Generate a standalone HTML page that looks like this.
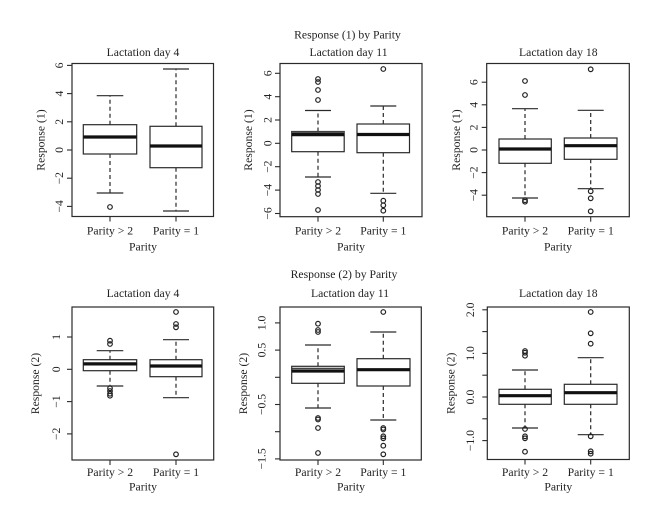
<!DOCTYPE html>
<html><head><meta charset="utf-8"><style>
html,body{margin:0;padding:0;background:#fff;}
svg{display:block;}
text{font-family:"Liberation Serif",serif;font-size:11.7px;fill:#222;}
.f{fill:none;stroke:#2a2a2a;stroke-width:1.2;}
.b{fill:#fff;stroke:#2a2a2a;stroke-width:1.2;}
.m{stroke:#111;stroke-width:3.2;}
.w{stroke:#2a2a2a;stroke-width:1.2;stroke-dasharray:4 3;}
.c{stroke:#2a2a2a;stroke-width:1.2;}
.o{fill:none;stroke:#222;stroke-width:1.2;}
.t{stroke:#2a2a2a;stroke-width:1.1;}
</style></head><body>
<svg width="660" height="525" viewBox="0 0 660 525" xmlns="http://www.w3.org/2000/svg">
<rect width="660" height="525" fill="#fff"/>

<!-- Titles -->
<text x="347.5" y="38.5" text-anchor="middle">Response (1) by Parity</text>
<text x="143" y="56" text-anchor="middle">Lactation day 4</text>
<text x="348.5" y="56" text-anchor="middle">Lactation day 11</text>
<text x="558.3" y="56" text-anchor="middle">Lactation day 18</text>
<text x="344" y="278" text-anchor="middle">Response (2) by Parity</text>
<text x="143" y="297" text-anchor="middle">Lactation day 4</text>
<text x="350" y="297" text-anchor="middle">Lactation day 11</text>
<text x="558.3" y="297" text-anchor="middle">Lactation day 18</text>

<!-- ===== Panel 1 ===== -->
<g>
<!-- whiskers -->
<line class="w" x1="110" y1="124.7" x2="110" y2="95.7"/><line class="w" x1="110" y1="154" x2="110" y2="193"/>
<line class="c" x1="96.7" y1="95.7" x2="123.3" y2="95.7"/><line class="c" x1="96.7" y1="193" x2="123.3" y2="193"/>
<rect class="b" x="83.3" y="124.7" width="53.4" height="29.3"/>
<line class="m" x1="83.3" y1="137" x2="136.7" y2="137"/>
<circle class="o" cx="110" cy="207" r="2.3"/>

<line class="w" x1="176" y1="126.3" x2="176" y2="69"/><line class="w" x1="176" y1="167.7" x2="176" y2="211"/>
<line class="c" x1="163" y1="69" x2="189" y2="69"/><line class="c" x1="163" y1="211" x2="189" y2="211"/>
<rect class="b" x="150" y="126.3" width="52" height="41.4"/>
<line class="m" x1="150" y1="146" x2="202" y2="146"/>

<rect class="f" x="72" y="63.5" width="141.5" height="153"/>
<!-- y ticks -->
<line class="t" x1="67" y1="65.4" x2="72" y2="65.4"/><line class="t" x1="67" y1="93.6" x2="72" y2="93.6"/><line class="t" x1="67" y1="121.8" x2="72" y2="121.8"/><line class="t" x1="67" y1="150" x2="72" y2="150"/><line class="t" x1="67" y1="178.2" x2="72" y2="178.2"/><line class="t" x1="67" y1="206.4" x2="72" y2="206.4"/>
<text x="59" y="65.4" transform="rotate(-90 59 65.4)" text-anchor="middle" dy="0.35em">6</text>
<text x="59" y="93.6" transform="rotate(-90 59 93.6)" text-anchor="middle" dy="0.35em">4</text>
<text x="59" y="121.8" transform="rotate(-90 59 121.8)" text-anchor="middle" dy="0.35em">2</text>
<text x="59" y="150" transform="rotate(-90 59 150)" text-anchor="middle" dy="0.35em">0</text>
<text x="59" y="178.2" transform="rotate(-90 59 178.2)" text-anchor="middle" dy="0.35em">−2</text>
<text x="59" y="206.4" transform="rotate(-90 59 206.4)" text-anchor="middle" dy="0.35em">−4</text>
<text x="41" y="140" transform="rotate(-90 41 140)" text-anchor="middle" dy="0.32em">Response (1)</text>
<!-- x ticks -->
<line class="t" x1="110" y1="216.5" x2="110" y2="221.5"/><line class="t" x1="176" y1="216.5" x2="176" y2="221.5"/>
<text x="110" y="234.5" text-anchor="middle">Parity &gt; 2</text>
<text x="176" y="234.5" text-anchor="middle">Parity = 1</text>
<text x="143" y="250.5" text-anchor="middle">Parity</text>
</g>

<!-- ===== Panel 2 ===== -->
<g>
<line class="w" x1="318" y1="131.5" x2="318" y2="110.5"/><line class="w" x1="318" y1="151.7" x2="318" y2="177"/>
<line class="c" x1="305" y1="110.5" x2="331" y2="110.5"/><line class="c" x1="305" y1="177" x2="331" y2="177"/>
<rect class="b" x="291.7" y="131.5" width="52.5" height="20.2"/>
<rect x="291.7" y="131.5" width="52.5" height="3" fill="#555"/>
<line class="m" x1="291.7" y1="134.6" x2="344.2" y2="134.6"/>
<circle class="o" cx="318" cy="79" r="2.3"/><circle class="o" cx="318" cy="82" r="2.3"/><circle class="o" cx="318" cy="90" r="2.3"/><circle class="o" cx="318" cy="100" r="2.3"/>
<circle class="o" cx="318" cy="182" r="2.3"/><circle class="o" cx="318" cy="186" r="2.3"/><circle class="o" cx="318" cy="190" r="2.3"/><circle class="o" cx="318" cy="194" r="2.3"/><circle class="o" cx="318" cy="210" r="2.3"/>

<line class="w" x1="383.3" y1="124" x2="383.3" y2="106"/><line class="w" x1="383.3" y1="152.7" x2="383.3" y2="193.3"/>
<line class="c" x1="370.3" y1="106" x2="396.3" y2="106"/><line class="c" x1="370.3" y1="193.3" x2="396.3" y2="193.3"/>
<rect class="b" x="357" y="124" width="52.5" height="28.7"/>
<line class="m" x1="357" y1="134.5" x2="409.5" y2="134.5"/>
<circle class="o" cx="383.3" cy="69" r="2.3"/>
<circle class="o" cx="383.3" cy="200.7" r="2.3"/><circle class="o" cx="383.3" cy="205.3" r="2.3"/><circle class="o" cx="383.3" cy="210.7" r="2.3"/>

<rect class="f" x="280" y="63.5" width="142" height="153.2"/>
<line class="t" x1="275" y1="73.3" x2="280" y2="73.3"/><line class="t" x1="275" y1="96.7" x2="280" y2="96.7"/><line class="t" x1="275" y1="120" x2="280" y2="120"/><line class="t" x1="275" y1="143.3" x2="280" y2="143.3"/><line class="t" x1="275" y1="166.7" x2="280" y2="166.7"/><line class="t" x1="275" y1="190.1" x2="280" y2="190.1"/><line class="t" x1="275" y1="213.5" x2="280" y2="213.5"/>
<text x="267.5" y="73.3" transform="rotate(-90 267.5 73.3)" text-anchor="middle" dy="0.35em">6</text>
<text x="267.5" y="96.7" transform="rotate(-90 267.5 96.7)" text-anchor="middle" dy="0.35em">4</text>
<text x="267.5" y="120" transform="rotate(-90 267.5 120)" text-anchor="middle" dy="0.35em">2</text>
<text x="267.5" y="143.3" transform="rotate(-90 267.5 143.3)" text-anchor="middle" dy="0.35em">0</text>
<text x="267.5" y="166.7" transform="rotate(-90 267.5 166.7)" text-anchor="middle" dy="0.35em">−2</text>
<text x="267.5" y="190.1" transform="rotate(-90 267.5 190.1)" text-anchor="middle" dy="0.35em">−4</text>
<text x="267.5" y="213.5" transform="rotate(-90 267.5 213.5)" text-anchor="middle" dy="0.35em">−6</text>
<text x="248.5" y="140" transform="rotate(-90 248.5 140)" text-anchor="middle" dy="0.32em">Response (1)</text>
<line class="t" x1="318" y1="216.7" x2="318" y2="221.7"/><line class="t" x1="383.3" y1="216.7" x2="383.3" y2="221.7"/>
<text x="318" y="234.5" text-anchor="middle">Parity &gt; 2</text>
<text x="383.3" y="234.5" text-anchor="middle">Parity = 1</text>
<text x="351" y="250.5" text-anchor="middle">Parity</text>
</g>

<!-- ===== Panel 3 ===== -->
<g>
<line class="w" x1="525" y1="139" x2="525" y2="108.7"/><line class="w" x1="525" y1="163.3" x2="525" y2="198"/>
<line class="c" x1="512" y1="108.7" x2="538" y2="108.7"/><line class="c" x1="512" y1="198" x2="538" y2="198"/>
<rect class="b" x="499" y="139" width="52.3" height="24.3"/>
<line class="m" x1="499" y1="149" x2="551.3" y2="149"/>
<circle class="o" cx="525" cy="81" r="2.3"/><circle class="o" cx="525" cy="95" r="2.3"/>
<circle class="o" cx="525" cy="200.2" r="2.3"/><circle class="o" cx="525" cy="201.7" r="2.3"/>

<line class="w" x1="590.7" y1="138" x2="590.7" y2="110.3"/><line class="w" x1="590.7" y1="159.3" x2="590.7" y2="188.7"/>
<line class="c" x1="577.7" y1="110.3" x2="603.7" y2="110.3"/><line class="c" x1="577.7" y1="188.7" x2="603.7" y2="188.7"/>
<rect class="b" x="564.3" y="138" width="52.7" height="21.3"/>
<line class="m" x1="564.3" y1="145.7" x2="617" y2="145.7"/>
<circle class="o" cx="590.7" cy="69.3" r="2.3"/>
<circle class="o" cx="590.7" cy="191.3" r="2.3"/><circle class="o" cx="590.7" cy="198.3" r="2.3"/><circle class="o" cx="590.7" cy="211.3" r="2.3"/>

<rect class="f" x="486.7" y="63.5" width="142.6" height="153.2"/>
<line class="t" x1="481.7" y1="82.2" x2="486.7" y2="82.2"/><line class="t" x1="481.7" y1="104.8" x2="486.7" y2="104.8"/><line class="t" x1="481.7" y1="127.4" x2="486.7" y2="127.4"/><line class="t" x1="481.7" y1="150" x2="486.7" y2="150"/><line class="t" x1="481.7" y1="172.6" x2="486.7" y2="172.6"/><line class="t" x1="481.7" y1="195.2" x2="486.7" y2="195.2"/>
<text x="473.5" y="82.2" transform="rotate(-90 473.5 82.2)" text-anchor="middle" dy="0.35em">6</text>
<text x="473.5" y="104.8" transform="rotate(-90 473.5 104.8)" text-anchor="middle" dy="0.35em">4</text>
<text x="473.5" y="127.4" transform="rotate(-90 473.5 127.4)" text-anchor="middle" dy="0.35em">2</text>
<text x="473.5" y="150" transform="rotate(-90 473.5 150)" text-anchor="middle" dy="0.35em">0</text>
<text x="473.5" y="172.6" transform="rotate(-90 473.5 172.6)" text-anchor="middle" dy="0.35em">−2</text>
<text x="473.5" y="195.2" transform="rotate(-90 473.5 195.2)" text-anchor="middle" dy="0.35em">−4</text>
<text x="456.5" y="140" transform="rotate(-90 456.5 140)" text-anchor="middle" dy="0.32em">Response (1)</text>
<line class="t" x1="525" y1="216.7" x2="525" y2="221.7"/><line class="t" x1="590.7" y1="216.7" x2="590.7" y2="221.7"/>
<text x="525" y="234.5" text-anchor="middle">Parity &gt; 2</text>
<text x="590.7" y="234.5" text-anchor="middle">Parity = 1</text>
<text x="558" y="250.5" text-anchor="middle">Parity</text>
</g>

<!-- ===== Panel 4 ===== -->
<g>
<line class="w" x1="110" y1="359.7" x2="110" y2="350.7"/><line class="w" x1="110" y1="370.7" x2="110" y2="386"/>
<line class="c" x1="96.7" y1="350.7" x2="123.3" y2="350.7"/><line class="c" x1="96.7" y1="386" x2="123.3" y2="386"/>
<rect class="b" x="83.3" y="359.7" width="53.4" height="11"/>
<line class="m" x1="83.3" y1="363.9" x2="136.7" y2="363.9"/>
<circle class="o" cx="110" cy="340.7" r="2.3"/><circle class="o" cx="110" cy="344" r="2.3"/>
<circle class="o" cx="110" cy="388.3" r="2.3"/><circle class="o" cx="110" cy="391" r="2.3"/><circle class="o" cx="110" cy="393.7" r="2.3"/><circle class="o" cx="110" cy="395.7" r="2.3"/>

<line class="w" x1="176" y1="359.7" x2="176" y2="339.7"/><line class="w" x1="176" y1="376.7" x2="176" y2="397.7"/>
<line class="c" x1="163" y1="339.7" x2="189" y2="339.7"/><line class="c" x1="163" y1="397.7" x2="189" y2="397.7"/>
<rect class="b" x="150" y="359.7" width="52" height="17"/>
<line class="m" x1="150" y1="366" x2="202" y2="366"/>
<circle class="o" cx="176" cy="312" r="2.3"/><circle class="o" cx="176" cy="324" r="2.3"/><circle class="o" cx="176" cy="327.3" r="2.3"/><circle class="o" cx="176" cy="454.3" r="2.3"/>

<rect class="f" x="72" y="307" width="141.7" height="153"/>
<line class="t" x1="67" y1="337" x2="72" y2="337"/><line class="t" x1="67" y1="369.3" x2="72" y2="369.3"/><line class="t" x1="67" y1="401.6" x2="72" y2="401.6"/><line class="t" x1="67" y1="433.9" x2="72" y2="433.9"/>
<text x="56" y="337" transform="rotate(-90 56 337)" text-anchor="middle" dy="0.35em">1</text>
<text x="56" y="369.3" transform="rotate(-90 56 369.3)" text-anchor="middle" dy="0.35em">0</text>
<text x="56" y="401.6" transform="rotate(-90 56 401.6)" text-anchor="middle" dy="0.35em">−1</text>
<text x="56" y="433.9" transform="rotate(-90 56 433.9)" text-anchor="middle" dy="0.35em">−2</text>
<text x="35.5" y="383.5" transform="rotate(-90 35.5 383.5)" text-anchor="middle" dy="0.32em">Response (2)</text>
<line class="t" x1="110" y1="460" x2="110" y2="465"/><line class="t" x1="176" y1="460" x2="176" y2="465"/>
<text x="110" y="476" text-anchor="middle">Parity &gt; 2</text>
<text x="176" y="476" text-anchor="middle">Parity = 1</text>
<text x="143" y="490.5" text-anchor="middle">Parity</text>
</g>

<!-- ===== Panel 5 ===== -->
<g>
<line class="w" x1="318" y1="366.3" x2="318" y2="345"/><line class="w" x1="318" y1="383.3" x2="318" y2="408"/>
<line class="c" x1="305" y1="345" x2="331" y2="345"/><line class="c" x1="305" y1="408" x2="331" y2="408"/>
<rect class="b" x="291.7" y="366.3" width="52.6" height="17"/>
<line class="c" x1="291.7" y1="368.3" x2="344.3" y2="368.3"/>
<line class="m" x1="291.7" y1="371" x2="344.3" y2="371"/>
<circle class="o" cx="318" cy="323.7" r="2.3"/><circle class="o" cx="318" cy="330" r="2.3"/><circle class="o" cx="318" cy="332" r="2.3"/>
<circle class="o" cx="318" cy="418" r="2.3"/><circle class="o" cx="318" cy="419.5" r="2.3"/><circle class="o" cx="318" cy="428" r="2.3"/><circle class="o" cx="318" cy="453" r="2.3"/>

<line class="w" x1="383.3" y1="358.7" x2="383.3" y2="332"/><line class="w" x1="383.3" y1="386" x2="383.3" y2="420"/>
<line class="c" x1="370.3" y1="332" x2="396.3" y2="332"/><line class="c" x1="370.3" y1="420" x2="396.3" y2="420"/>
<rect class="b" x="357" y="358.7" width="53" height="27.3"/>
<line class="m" x1="357" y1="369.7" x2="410" y2="369.7"/>
<circle class="o" cx="383.3" cy="312" r="2.3"/>
<circle class="o" cx="383.3" cy="428" r="2.3"/><circle class="o" cx="383.3" cy="429.5" r="2.3"/><circle class="o" cx="383.3" cy="436.3" r="2.3"/><circle class="o" cx="383.3" cy="438.3" r="2.3"/><circle class="o" cx="383.3" cy="445.7" r="2.3"/><circle class="o" cx="383.3" cy="454.3" r="2.3"/>

<rect class="f" x="280" y="307" width="141.3" height="153"/>
<line class="t" x1="275" y1="322.9" x2="280" y2="322.9"/><line class="t" x1="275" y1="350.1" x2="280" y2="350.1"/><line class="t" x1="275" y1="377.3" x2="280" y2="377.3"/><line class="t" x1="275" y1="404.5" x2="280" y2="404.5"/><line class="t" x1="275" y1="431.7" x2="280" y2="431.7"/><line class="t" x1="275" y1="458.9" x2="280" y2="458.9"/>
<text x="261.5" y="322.9" transform="rotate(-90 261.5 322.9)" text-anchor="middle" dy="0.35em">1.0</text>
<text x="261.5" y="350.1" transform="rotate(-90 261.5 350.1)" text-anchor="middle" dy="0.35em">0.5</text>
<text x="261.5" y="404.5" transform="rotate(-90 261.5 404.5)" text-anchor="middle" dy="0.35em">−0.5</text>
<text x="261.5" y="458.9" transform="rotate(-90 261.5 458.9)" text-anchor="middle" dy="0.35em">−1.5</text>
<text x="243.5" y="383.5" transform="rotate(-90 243.5 383.5)" text-anchor="middle" dy="0.32em">Response (2)</text>
<line class="t" x1="318" y1="460" x2="318" y2="465"/><line class="t" x1="383.3" y1="460" x2="383.3" y2="465"/>
<text x="318" y="476" text-anchor="middle">Parity &gt; 2</text>
<text x="383.3" y="476" text-anchor="middle">Parity = 1</text>
<text x="351" y="490.5" text-anchor="middle">Parity</text>
</g>

<!-- ===== Panel 6 ===== -->
<g>
<line class="w" x1="525" y1="389.3" x2="525" y2="370"/><line class="w" x1="525" y1="404.3" x2="525" y2="428"/>
<line class="c" x1="512" y1="370" x2="538" y2="370"/><line class="c" x1="512" y1="428" x2="538" y2="428"/>
<rect class="b" x="499" y="389.3" width="52.3" height="15"/>
<line class="m" x1="499" y1="395.7" x2="551.3" y2="395.7"/>
<circle class="o" cx="525" cy="351" r="2.3"/><circle class="o" cx="525" cy="352.7" r="2.3"/><circle class="o" cx="525" cy="355.7" r="2.3"/>
<circle class="o" cx="525" cy="429" r="2.3"/><circle class="o" cx="525" cy="436.3" r="2.3"/><circle class="o" cx="525" cy="438.3" r="2.3"/><circle class="o" cx="525" cy="451.7" r="2.3"/>

<line class="w" x1="590.7" y1="384.3" x2="590.7" y2="357.7"/><line class="w" x1="590.7" y1="404.3" x2="590.7" y2="434.7"/>
<line class="c" x1="577.7" y1="357.7" x2="603.7" y2="357.7"/><line class="c" x1="577.7" y1="434.7" x2="603.7" y2="434.7"/>
<rect class="b" x="564.3" y="384.3" width="52.7" height="20"/>
<line class="m" x1="564.3" y1="392.7" x2="617" y2="392.7"/>
<circle class="o" cx="590.7" cy="312" r="2.3"/><circle class="o" cx="590.7" cy="333.3" r="2.3"/><circle class="o" cx="590.7" cy="343.7" r="2.3"/>
<circle class="o" cx="590.7" cy="436.3" r="2.3"/><circle class="o" cx="590.7" cy="451.3" r="2.3"/><circle class="o" cx="590.7" cy="453.7" r="2.3"/>

<rect class="f" x="487.3" y="307" width="142" height="152.5"/>
<line class="t" x1="482.3" y1="309.8" x2="487.3" y2="309.8"/><line class="t" x1="482.3" y1="331.6" x2="487.3" y2="331.6"/><line class="t" x1="482.3" y1="353.4" x2="487.3" y2="353.4"/><line class="t" x1="482.3" y1="375.2" x2="487.3" y2="375.2"/><line class="t" x1="482.3" y1="397" x2="487.3" y2="397"/><line class="t" x1="482.3" y1="418.8" x2="487.3" y2="418.8"/><line class="t" x1="482.3" y1="440.6" x2="487.3" y2="440.6"/>
<text x="470" y="309.8" transform="rotate(-90 470 309.8)" text-anchor="middle" dy="0.35em">2.0</text>
<text x="470" y="353.4" transform="rotate(-90 470 353.4)" text-anchor="middle" dy="0.35em">1.0</text>
<text x="470" y="397" transform="rotate(-90 470 397)" text-anchor="middle" dy="0.35em">0.0</text>
<text x="470" y="440.6" transform="rotate(-90 470 440.6)" text-anchor="middle" dy="0.35em">−1.0</text>
<text x="450.7" y="383.3" transform="rotate(-90 450.7 383.3)" text-anchor="middle" dy="0.32em">Response (2)</text>
<line class="t" x1="525" y1="459.5" x2="525" y2="464.5"/><line class="t" x1="590.7" y1="459.5" x2="590.7" y2="464.5"/>
<text x="525" y="476" text-anchor="middle">Parity &gt; 2</text>
<text x="590.7" y="476" text-anchor="middle">Parity = 1</text>
<text x="558.3" y="490.5" text-anchor="middle">Parity</text>
</g>
</svg>
</body></html>
